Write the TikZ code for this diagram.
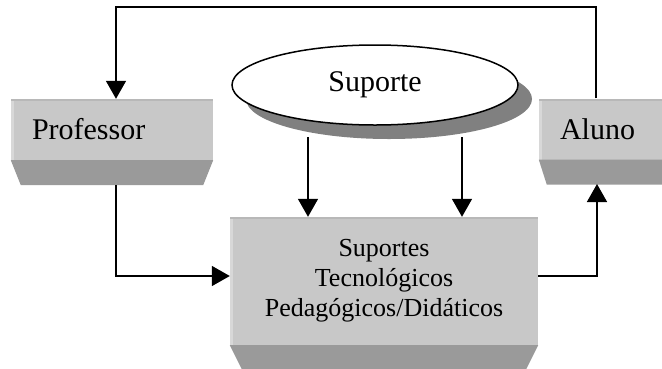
\documentclass[tikz,border=0pt]{standalone}
\usepackage{fontspec}
\setmainfont{Liberation Serif}
\usetikzlibrary{arrows.meta,shapes.geometric,calc}
\definecolor{facegray}{HTML}{C8C8C8}
\definecolor{faceedge}{HTML}{D8D8D8}
\definecolor{facetop}{HTML}{B8B8B8}
\definecolor{bevelgray}{HTML}{9A9A9A}
\definecolor{shadowgray}{HTML}{808080}
\begin{document}
\begin{tikzpicture}[x=1pt,y=-1pt,
  face/.style={rectangle, fill=facegray, draw=none, inner sep=0pt,
    path picture={
      \fill[faceedge] (path picture bounding box.north west) rectangle ([xshift=3pt]path picture bounding box.south west);
      \fill[facetop] (path picture bounding box.north west) rectangle ([yshift=-2pt]path picture bounding box.north east);
    }},
  sidebox/.style={face, minimum height=61pt, align=left, inner xsep=21pt,
    font=\fontsize{30}{36}\selectfont},
  bevel/.style={fill=bevelgray},
  oval/.style={ellipse, minimum width=286pt, minimum height=80pt, inner sep=0pt},
  link/.style={line width=1.5pt, -{Triangle[length=18pt,width=20pt]}}]
\useasboundingbox (0,0) rectangle (662,368);

% Suporte: oval with its drop shadow
\node[oval, fill=shadowgray] (supshadow) at (389,99) {};
\node[oval, fill=white, draw=black, line width=1.5pt,
  font=\fontsize{30}{36}\selectfont] (suporte) at (375,85) {Suporte};

% Professor and Aluno boxes with bevelled bottoms
\node[sidebox, text width=160pt, minimum width=202pt] (prof) at (112,129.5) {Professor};
\fill[bevel] (prof.south west) -- (prof.south east) -- ++(-10,25)
  -- ($(prof.south west)+(10,25)$) -- cycle;
\node[sidebox, text width=98pt, minimum width=140pt] (aluno) at (609,129) {Aluno};
\fill[bevel] (aluno.south west) -- (aluno.south east) -- ++(-8,25)
  -- ($(aluno.south west)+(8,25)$) -- cycle;

% Central box
\node[face, minimum width=308pt, minimum height=128pt, align=center,
  font=\fontsize{26}{30}\selectfont] (central) at (384,281)
  {Suportes\\Tecnológicos\\Pedagógicos/Didáticos};
\fill[bevel] (central.south west) -- (central.south east) -- ++(-12,24)
  -- ($(central.south west)+(12,24)$) -- cycle;

% connector end points
\coordinate (s1) at (308,137);
\coordinate (s2) at (462,137);
\coordinate (profbase) at ($(prof.south)+(4,25)$);
\coordinate (alunobase) at (597,184);
\coordinate (top) at (0,7);

% connectors
\draw[link] (s1) -- (s1 |- central.north);
\draw[link] (s2) -- (s2 |- central.north);
\draw[link] (profbase) |- ($(central.west)+(0,-5)$);
\draw[link] ($(central.east)+(0,-5)$) -| (alunobase);
\draw[link] ($(aluno.north)+(-13,0)$) |- (top -| profbase) -- ($(prof.north)+(4,0)$);
\end{tikzpicture}
\end{document}
